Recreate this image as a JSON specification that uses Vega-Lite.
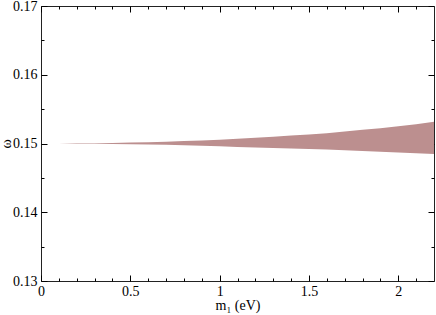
{
  "$schema": "https://vega.github.io/schema/vega-lite/v6.json",
  "autosize": {"type": "none"},
  "width": 393,
  "height": 275,
  "padding": {"left": 41, "top": 6, "right": 2, "bottom": 34},
  "background": "white",
  "config": {
    "view": {"stroke": "#222", "strokeWidth": 1},
    "font": "Liberation Serif",
    "axis": {
      "domain": false,
      "grid": false,
      "tickColor": "#000",
      "tickWidth": 1,
      "labelFont": "Liberation Serif",
      "labelFontSize": 14,
      "labelColor": "#000",
      "labelFlush": false,
      "labelOverlap": false,
      "titleFont": "Liberation Serif",
      "titleFontSize": 14,
      "titleFontWeight": "normal",
      "titleColor": "#000"
    }
  },
  "data": {
    "values": [
      {"m": 0.0, "upper": 0.15, "lower": 0.15},
      {"m": 0.1, "upper": 0.150002, "lower": 0.149998},
      {"m": 0.2, "upper": 0.15002, "lower": 0.14998},
      {"m": 0.3, "upper": 0.15004, "lower": 0.14996},
      {"m": 0.4, "upper": 0.15008, "lower": 0.14993},
      {"m": 0.5, "upper": 0.15013, "lower": 0.1499},
      {"m": 0.6, "upper": 0.15019, "lower": 0.14986},
      {"m": 0.7, "upper": 0.15026, "lower": 0.14981},
      {"m": 0.8, "upper": 0.15035, "lower": 0.14975},
      {"m": 0.9, "upper": 0.15045, "lower": 0.14968},
      {"m": 1.0, "upper": 0.15056, "lower": 0.1496},
      {"m": 1.1, "upper": 0.1507, "lower": 0.1495},
      {"m": 1.2, "upper": 0.15084, "lower": 0.14942},
      {"m": 1.3, "upper": 0.15099, "lower": 0.14934},
      {"m": 1.4, "upper": 0.15115, "lower": 0.14927},
      {"m": 1.5, "upper": 0.15132, "lower": 0.1492},
      {"m": 1.6, "upper": 0.1515, "lower": 0.14913},
      {"m": 1.7, "upper": 0.15175, "lower": 0.14902},
      {"m": 1.8, "upper": 0.152, "lower": 0.14891},
      {"m": 1.9, "upper": 0.15223, "lower": 0.1488},
      {"m": 2.0, "upper": 0.1525, "lower": 0.14869},
      {"m": 2.1, "upper": 0.1528, "lower": 0.14858},
      {"m": 2.2, "upper": 0.15315, "lower": 0.14847}
    ]
  },
  "resolve": {"axis": {"x": "independent", "y": "independent"}},
  "layer": [
    {
      "mark": {"type": "area", "color": "#bc8f8f", "opacity": 1},
      "encoding": {
        "x": {"field": "m", "type": "quantitative",
          "scale": {"domain": [0, 2.2], "nice": false, "zero": false},
          "axis": {"orient": "bottom", "values": [0, 0.5, 1, 1.5, 2], "format": "~g", "ticks": false, "labelPadding": 3, "title": "m₁ (eV)", "titlePadding": 0}},
        "y": {"field": "upper", "type": "quantitative",
          "scale": {"domain": [0.13, 0.17], "nice": false, "zero": false},
          "axis": {"orient": "left", "values": [0.13, 0.14, 0.15, 0.16, 0.17], "format": ".2f", "ticks": false, "labelPadding": 4, "title": "ω", "titleFontSize": 14, "titleX": -35, "titleY": 137.5, "titleAlign": "center", "titleBaseline": "middle", "titleAngle": -90}},
        "y2": {"field": "lower"}
      }
    },
    {
      "mark": {"type": "area", "opacity": 0},
      "encoding": {
        "x": {"field": "m", "type": "quantitative",
          "axis": {"orient": "bottom", "values": [0, 0.5, 1, 1.5, 2], "labels": false, "tickSize": -6, "title": null}},
        "y": {"field": "upper", "type": "quantitative",
          "axis": {"orient": "left", "values": [0.13, 0.14, 0.15, 0.16, 0.17], "labels": false, "tickSize": -6, "title": null}},
        "y2": {"field": "lower"}
      }
    },
    {
      "mark": {"type": "area", "opacity": 0},
      "encoding": {
        "x": {"field": "m", "type": "quantitative",
          "axis": {"orient": "top", "values": [0, 0.5, 1, 1.5, 2], "labels": false, "tickSize": -6, "title": null}},
        "y": {"field": "upper", "type": "quantitative",
          "axis": {"orient": "right", "values": [0.13, 0.14, 0.15, 0.16, 0.17], "labels": false, "tickSize": -6, "title": null}},
        "y2": {"field": "lower"}
      }
    },
    {
      "mark": {"type": "area", "opacity": 0},
      "encoding": {
        "x": {"field": "m", "type": "quantitative",
          "axis": {"orient": "bottom", "values": [0.1, 0.2, 0.3, 0.4, 0.6, 0.7, 0.8, 0.9, 1.1, 1.2, 1.3, 1.4, 1.6, 1.7, 1.8, 1.9, 2.1], "labels": false, "tickSize": -3, "title": null}},
        "y": {"field": "upper", "type": "quantitative",
          "axis": {"orient": "left", "values": [0.135, 0.145, 0.155, 0.165], "labels": false, "tickSize": -3, "title": null}},
        "y2": {"field": "lower"}
      }
    },
    {
      "mark": {"type": "area", "opacity": 0},
      "encoding": {
        "x": {"field": "m", "type": "quantitative",
          "axis": {"orient": "top", "values": [0.1, 0.2, 0.3, 0.4, 0.6, 0.7, 0.8, 0.9, 1.1, 1.2, 1.3, 1.4, 1.6, 1.7, 1.8, 1.9, 2.1], "labels": false, "tickSize": -3, "title": null}},
        "y": {"field": "upper", "type": "quantitative",
          "axis": {"orient": "right", "values": [0.135, 0.145, 0.155, 0.165], "labels": false, "tickSize": -3, "title": null}},
        "y2": {"field": "lower"}
      }
    }
  ]
}
